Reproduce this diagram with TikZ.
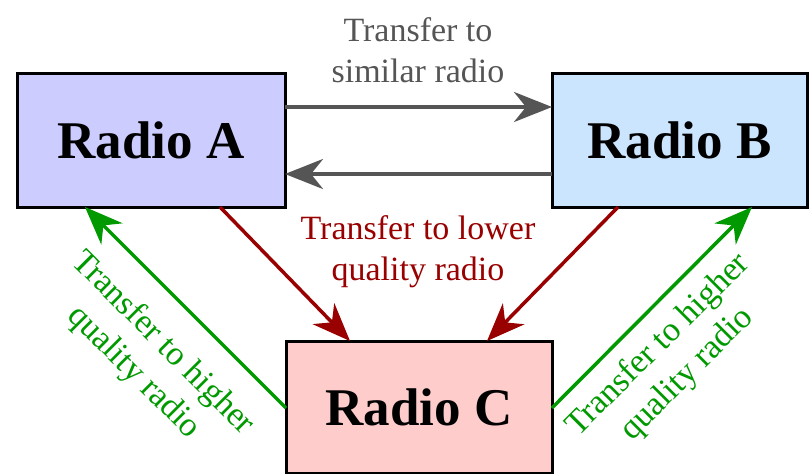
\documentclass[tikz,border=0pt]{standalone}
\usepackage{fontspec}
\setmainfont{Liberation Serif}[BoldFont={Liberation Serif Bold}]
\newfontfamily\tnr{Liberation Serif}[BoldFont={Liberation Serif Bold}]
\usetikzlibrary{arrows.meta}
\definecolor{fillA}{HTML}{CCCCFF}
\definecolor{fillB}{HTML}{CCE5FF}
\definecolor{fillC}{HTML}{FFCCCC}
\definecolor{grayc}{HTML}{555555}
\definecolor{redc}{HTML}{990000}
\definecolor{greenc}{HTML}{009900}
\tikzset{
  radio/.style={draw=black, line width=3pt, inner sep=0pt, outer sep=0pt,
    font=\tnr\fontsize{53}{60}\selectfont\bfseries},
  conn/.style={line width=3.5pt, -{Stealth[length=38pt,width=30pt,inset=12pt]}},
  lbl/.style={font=\tnr\fontsize{34}{41}\selectfont, align=center, inner sep=0pt}
}
\begin{document}
\begin{tikzpicture}[x=1pt,y=-1pt]
\useasboundingbox (0,0) rectangle (809,474);
\node[radio, fill=fillA, minimum width=268pt, minimum height=134pt] (A) at (151,140) {Radio A};
\node[radio, fill=fillB, minimum width=255pt, minimum height=134pt] (B) at (679.5,140) {Radio B};
\node[radio, fill=fillC, minimum width=266pt, minimum height=132pt] (C) at (419,407) {Radio C};

\draw[conn, grayc, line width=4pt] ([yshift=33pt]A.east) -- ([yshift=33pt]B.west);
\draw[conn, grayc, line width=4pt] ([yshift=-34pt]B.west) -- ([yshift=-34pt]A.east);
\node[lbl, text=grayc] (lsim) at (418,50) {Transfer to\\similar radio};

\draw[conn, redc] ([xshift=69pt]A.south) -- ([xshift=-69pt]C.north);
\draw[conn, redc] ([xshift=-61.5pt]B.south) -- ([xshift=68pt]C.north);
\node[lbl, text=redc] (llow) at (418,252) {Transfer to lower\\quality radio};

\draw[conn, greenc] ([yshift=-1pt]C.west) -- ([xshift=-66pt]A.south);
\draw[conn, greenc] ([yshift=-1pt]C.east) -- ([xshift=72.5pt]B.south);
\node[lbl, text=greenc, rotate=-45] (lhl) at (148,358) {Transfer to higher\\quality radio};
\node[lbl, text=greenc, rotate=45] (lhr) at (673,360) {Transfer to higher\\quality radio};
\end{tikzpicture}
\end{document}
